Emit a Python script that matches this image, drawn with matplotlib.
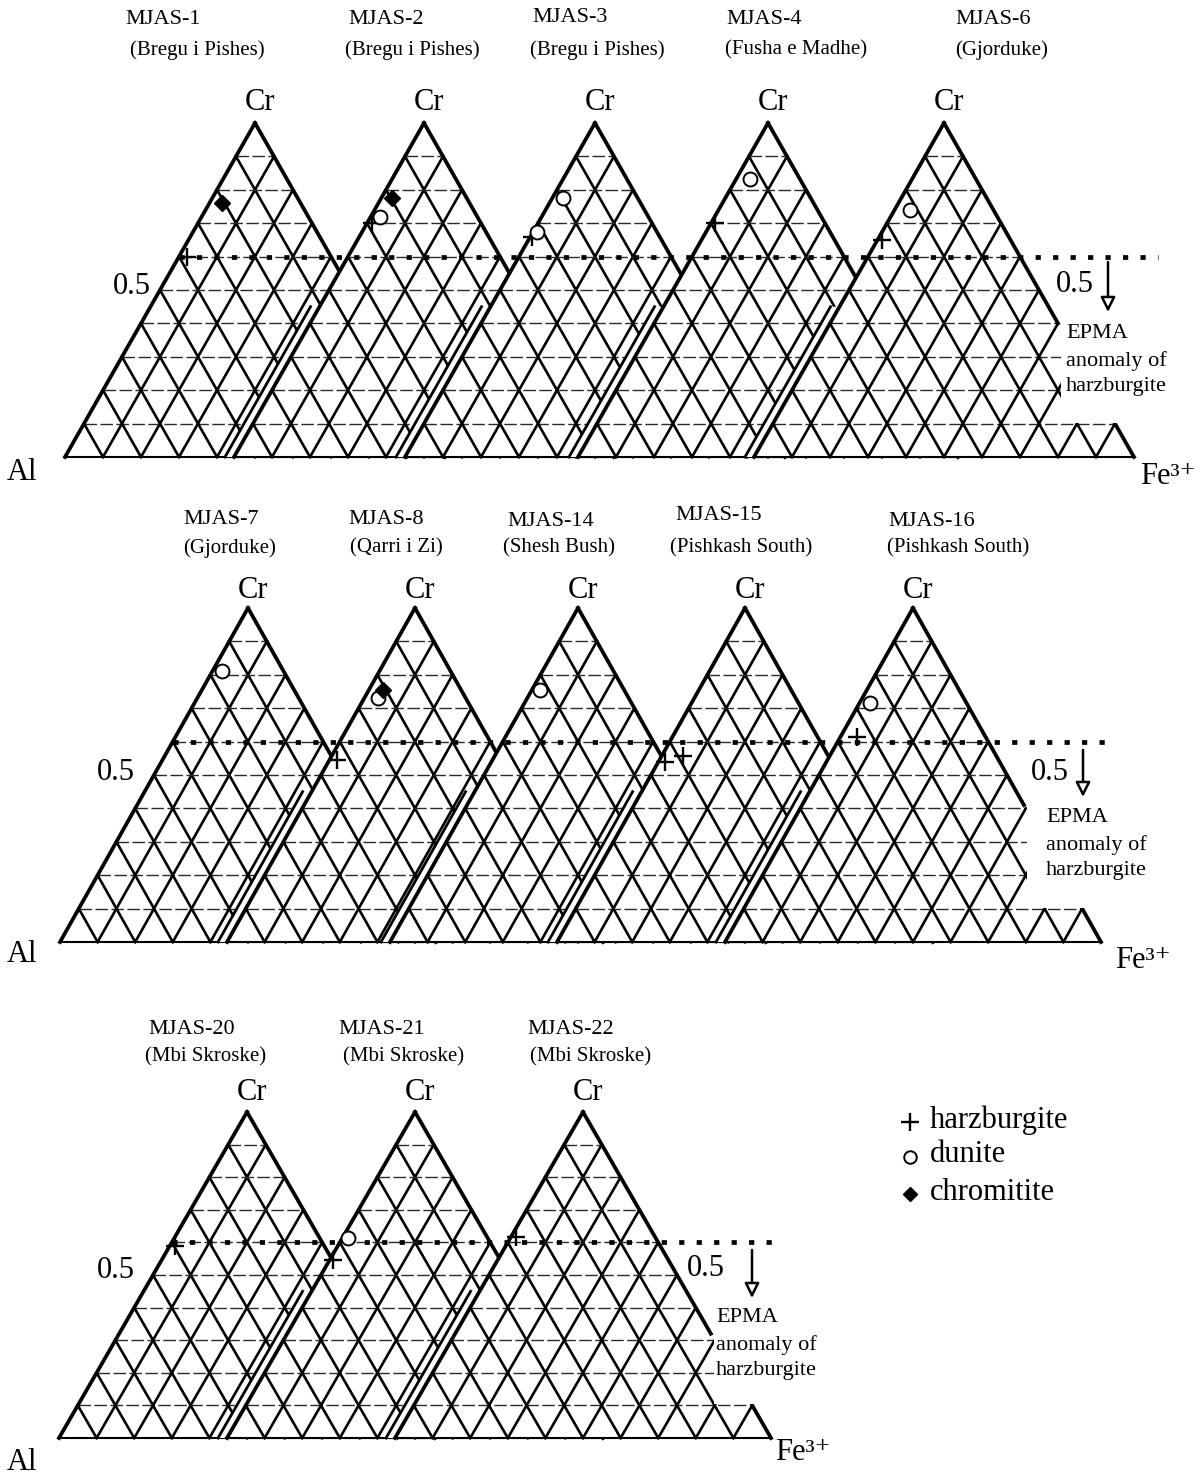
import matplotlib.pyplot as plt
from matplotlib.patches import Polygon, Rectangle

plt.rcParams['font.family'] = ['Liberation Serif', 'DejaVu Serif']

# samples and localities, one list per row of diagrams
row1_samples = ['MJAS-1', 'MJAS-2', 'MJAS-3', 'MJAS-4', 'MJAS-6']
row1_places = ['(Bregu i Pishes)', '(Bregu i Pishes)', '(Bregu i Pishes)', '(Fusha e Madhe)', '(Gjorduke)']
row2_samples = ['MJAS-7', 'MJAS-8', 'MJAS-14', 'MJAS-15', 'MJAS-16']
row2_places = ['(Gjorduke)', '(Qarri i Zi)', '(Shesh Bush)', '(Pishkash South)', '(Pishkash South)']
row3_samples = ['MJAS-20', 'MJAS-21', 'MJAS-22']
row3_places = ['(Mbi Skroske)', '(Mbi Skroske)', '(Mbi Skroske)']

# spinel compositions as (sample, Cr, Fe3+) fractions; Al = 1 - Cr - Fe3+
harzburgite = [('MJAS-1', 0.60, 0.020), ('MJAS-2', 0.70, 0.013), ('MJAS-3', 0.66, 0.005),
               ('MJAS-4', 0.70, 0.010), ('MJAS-6', 0.65, 0.012), ('MJAS-8', 0.545, 0.020),
               ('MJAS-15', 0.54, 0.017), ('MJAS-15', 0.557, 0.057), ('MJAS-16', 0.614, 0.044),
               ('MJAS-20', 0.59, 0.013), ('MJAS-21', 0.546, 0.009), ('MJAS-22', 0.617, 0.014)]
dunite = [('MJAS-2', 0.72, 0.024), ('MJAS-3', 0.775, 0.028), ('MJAS-3', 0.674, 0.010),
          ('MJAS-4', 0.832, 0.037), ('MJAS-6', 0.74, 0.040), ('MJAS-7', 0.81, 0.026),
          ('MJAS-8', 0.73, 0.037), ('MJAS-14', 0.754, 0.022), ('MJAS-16', 0.716, 0.028),
          ('MJAS-21', 0.613, 0.015)]
chromitite = [('MJAS-1', 0.76, 0.033), ('MJAS-2', 0.775, 0.028), ('MJAS-8', 0.754, 0.038)]

epma_cr = 0.6  # Cr level of the EPMA harzburgite anomaly line

rows = [
    dict(samples=row1_samples, places=row1_places,
         apex=[255, 424, 595, 768, 944], top=123, base=457, w=190, cut=0.40,
         name_x=[125, 348, 532, 726, 955], place_x=[130, 345, 530, 725, 955],
         name_y=[20, 20, 17, 20, 20], place_y=50, cr_y=103,
         line_end=1158, right05=(1075, 285), arrow=(1108, 262, 312), epma=(1066, 334),
         left05=(132, 287), al=(22, 472), fe=(1168, 476)),
    dict(samples=row2_samples, places=row2_places,
         apex=[248, 415, 578, 745, 913], top=608, base=942, w=188, cut=0.41,
         name_x=[183, 348, 507, 675, 888], place_x=[183, 350, 503, 670, 887],
         name_y=[520, 520, 522, 516, 522], place_y=548, cr_y=590,
         line_end=1105, right05=(1050, 772), arrow=(1083, 750, 797), epma=(1046, 818),
         left05=(116, 772), al=(22, 955), fe=(1143, 960)),
    dict(samples=row3_samples, places=row3_places,
         apex=[247, 415, 583], top=1112, base=1438, w=188, cut=0.32,
         name_x=[148, 338, 527], place_x=[145, 343, 530],
         name_y=[1030, 1030, 1030], place_y=1057, cr_y=1093,
         line_end=775, right05=(706, 1268), arrow=(752, 1250, 1298), epma=(716, 1318),
         left05=(116, 1270), al=(22, 1462), fe=(803, 1453)),
]


def tern(cx, top, base, w, cr, fe):
    al = 1 - cr - fe
    x = al * (cx - w) + fe * (cx + w) + cr * cx
    y = (al + fe) * base + cr * top
    return x, y


def draw_triangle(ax, cx, top, base, w, z, strip, cut=None):
    T = lambda cr, fe: tern(cx, top, base, w, cr, fe)
    left, apex, right = T(0, 0), T(1, 0), T(0, 1)
    if strip:
        gap = 9
        xs, ys = T(0.45, 0)
        pts = [(left[0] - gap, base), (xs - gap, ys), (xs, ys), apex, right]
    else:
        pts = [left, apex, right]
    ax.add_patch(Polygon(pts, closed=True, fc='white', ec='none', zorder=z))
    if strip:
        ax.plot([left[0] - gap, xs - gap], [base, ys], color='k', lw=2.0, zorder=z + 1)

    for k in range(1, 10):
        t = k / 10
        p, q = T(t, 0), T(t, 1 - t)
        ax.plot([p[0], q[0]], [p[1], q[1]], color='#2a2a2a', lw=1.0,
                ls=(0, (9, 2.5)), zorder=z + 1)
        p, q = T(0, t), T(1 - t, t)
        ax.plot([p[0], q[0]], [p[1], q[1]], color='k', lw=1.9, zorder=z + 1)
        p, q = T(0, 1 - t), T(1 - t, 0)
        ax.plot([p[0], q[0]], [p[1], q[1]], color='k', lw=1.9, zorder=z + 1)

    ax.plot([left[0], right[0]], [base, base], color='k', lw=1.5, zorder=z + 1)
    ax.plot([left[0], apex[0]], [left[1], apex[1]], color='k', lw=2.7, zorder=z + 1)
    if cut is None:
        ax.plot([apex[0], right[0]], [apex[1], right[1]], color='k', lw=2.7, zorder=z + 1)
    else:
        c = T(cut, 1 - cut)
        d = T(0.1, 0.9)
        ax.plot([apex[0], c[0]], [apex[1], c[1]], color='k', lw=2.7, zorder=z + 1)
        ax.plot([d[0], right[0]], [d[1], right[1]], color='k', lw=2.7, zorder=z + 1)
        # clear the space beside the cut edge for the anomaly label
        ax.add_patch(Rectangle((c[0] + 3, c[1]), 1200 - c[0], d[1] - c[1] - 1,
                               fc='white', ec='none', zorder=z + 2))


fig = plt.figure(figsize=(12, 14.84), dpi=100)
ax = fig.add_axes([0, 0, 1, 1])
ax.set_xlim(0, 1200)
ax.set_ylim(1484, 0)
ax.axis('off')

where = {}
for r in rows:
    n = len(r['apex'])
    for i, cx in enumerate(r['apex']):
        last = i == n - 1
        draw_triangle(ax, cx, r['top'], r['base'], r['w'], 10 + 3 * i,
                      strip=i > 0, cut=r['cut'] if last else None)
        where[r['samples'][i]] = (cx, r['top'], r['base'], r['w'])
        ax.text(cx + 5, r['cr_y'], 'Cr', fontsize=22, ha='center', va='center', zorder=60)
        ax.text(r['name_x'][i], r['name_y'][i], r['samples'][i], fontsize=16,
                ha='left', va='center', zorder=60)
        ax.text(r['place_x'][i], r['place_y'], r['places'][i], fontsize=15,
                ha='left', va='center', zorder=60)

    # EPMA anomaly line across the row
    x0, y0 = tern(r['apex'][0], r['top'], r['base'], r['w'], epma_cr, 0)
    ax.plot([x0, r['line_end']], [y0, y0], color='k', lw=3.4,
            ls=(0, (1.1, 2.6)), zorder=45)

    ax.text(*r['left05'], '0.5', fontsize=22, ha='center', va='center', zorder=60)
    ax.text(*r['right05'], '0.5', fontsize=22, ha='center', va='center', zorder=60)
    xa, ya0, ya1 = r['arrow']
    ax.annotate('', xy=(xa, ya1), xytext=(xa, ya0), zorder=60,
                arrowprops=dict(arrowstyle='-|>', fc='white', ec='k', lw=1.8,
                                mutation_scale=22, shrinkA=0, shrinkB=0))
    ex, ey = r['epma']
    ax.text(ex, ey, 'EPMA', fontsize=16, ha='left', va='center', zorder=60)
    ax.text(ex, ey + 27, 'anomaly of', fontsize=16, ha='left', va='center', zorder=60)
    ax.text(ex, ey + 53, 'harzburgite', fontsize=16, ha='left', va='center', zorder=60)
    ax.text(*r['al'], 'Al', fontsize=22, ha='center', va='center', zorder=60)
    ax.text(*r['fe'], 'Fe\u00b3\u207a', fontsize=22, ha='center', va='center', zorder=60)

# analyses
for pts, style in [(harzburgite, dict(marker='+', ms=13, mew=1.7, color='k')),
                   (dunite, dict(marker='o', ms=10, mew=1.4, mfc='white', color='k')),
                   (chromitite, dict(marker='D', ms=8, mew=1, color='k'))]:
    for name, cr, fe in pts:
        x, y = tern(*where[name], cr, fe)
        ax.plot(x, y, ls='none', zorder=50, **style)

# legend
leg_y = [1120, 1155, 1192]
leg_styles = [dict(marker='+', ms=13, mew=1.7, color='k'),
              dict(marker='o', ms=9, mew=1.4, mfc='white', color='k'),
              dict(marker='D', ms=7, mew=1, color='k')]
for y, st, lab in zip(leg_y, leg_styles, ['harzburgite', 'dunite', 'chromitite']):
    ax.plot(910, y + 2, ls='none', zorder=50, **st)
    ax.text(930, y, lab, fontsize=22, ha='left', va='center', zorder=60)

fig.savefig('out.png', dpi=100, facecolor='white')
